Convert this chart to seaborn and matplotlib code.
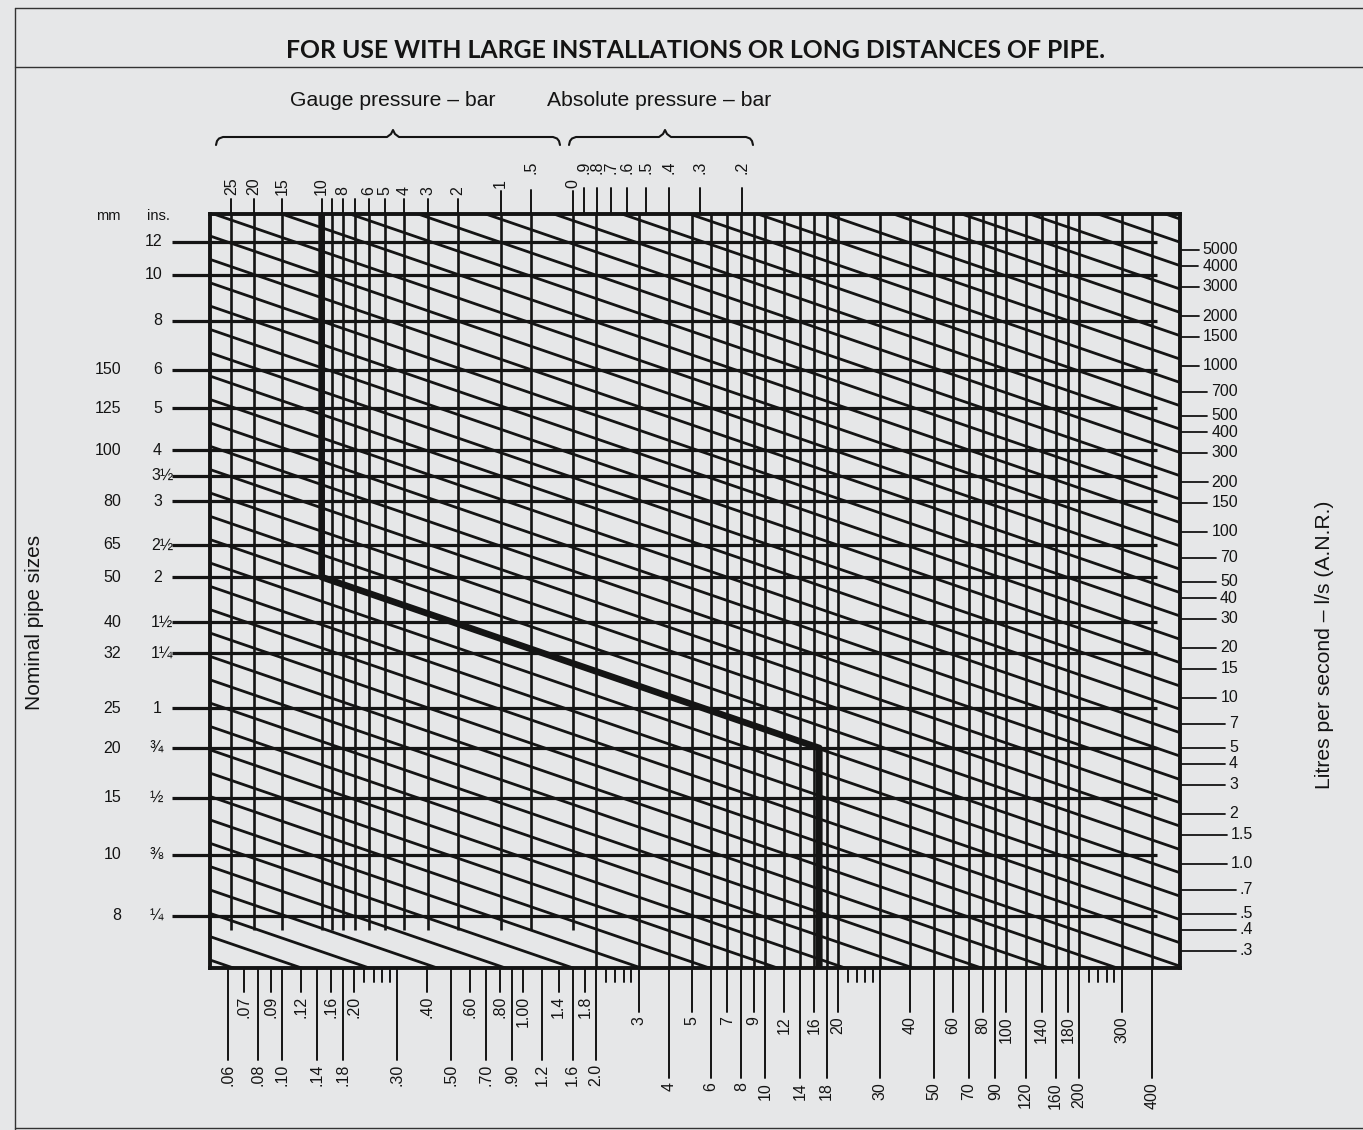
import numpy as np
import pandas as pd
import matplotlib
matplotlib.use("Agg")
import matplotlib.pyplot as plt
from matplotlib.lines import Line2D
from matplotlib.ticker import NullLocator
import seaborn as sns

# ---------------- data ----------------
title = "FOR USE WITH LARGE INSTALLATIONS OR LONG DISTANCES OF PIPE."
gauge_title = "Gauge pressure – bar"
abs_title = "Absolute pressure – bar"
left_title = "Nominal pipe sizes"
right_title = "Litres per second – l/s (A.N.R.)"

# pipe sizes (left scale) and the bore value used to place each line
pipe_inch_labels = ["12", "10", "8", "6", "5", "4", "3½", "3", "2½", "2",
                    "1½", "1¼", "1", "¾", "½", "⅜", "¼"]
pipe_mm_labels = ["", "", "", "150", "125", "100", "", "80", "65", "50",
                  "40", "32", "25", "20", "15", "10", "8"]
pipe_bore = [298, 250, 195, 150, 122, 97.5, 85, 74, 58.6, 49.3,
             38.7, 32.8, 24.4, 19.7, 15.1, 11.1, 8.0]

# litres per second (right scale)
flow_ticks = [5000, 4000, 3000, 2000, 1500, 1000, 700, 500, 400, 300, 200, 150,
              100, 70, 50, 40, 30, 20, 15, 10, 7, 5, 4, 3, 2, 1.5, 1.0, 0.7,
              0.5, 0.4, 0.3]
flow_labels = ["5000", "4000", "3000", "2000", "1500", "1000", "700", "500",
               "400", "300", "200", "150", "100", "70", "50", "40", "30", "20",
               "15", "10", "7", "5", "4", "3", "2", "1.5", "1.0", ".7", ".5",
               ".4", ".3"]

# pressure scales (top)
gauge_ticks = [25, 20, 15, 10, 9, 8, 7, 6, 5, 4, 3, 2, 1, 0.5, 0]
gauge_labels = ["25", "20", "15", "10", "", "8", "", "6", "5", "4", "3", "2",
                "1", ".5", "0"]
abs_ticks = [0.9, 0.8, 0.7, 0.6, 0.5, 0.4, 0.3, 0.2]
abs_labels = [".9", ".8", ".7", ".6", ".5", ".4", ".3", ".2"]
atmosphere = 1.0          # gauge -> absolute
pressure_factor = 1.61    # bottom-scale value x absolute pressure

# bottom scale
bottom_upper_ticks = [0.07, 0.09, 0.12, 0.16, 0.20, 0.40, 0.60, 0.80, 1.00, 1.4,
                      1.8, 3, 5, 7, 9, 12, 16, 20, 40, 60, 80, 100, 140, 180, 300]
bottom_upper_labels = [".07", ".09", ".12", ".16", ".20", ".40", ".60", ".80",
                       "1.00", "1.4", "1.8", "3", "5", "7", "9", "12", "16",
                       "20", "40", "60", "80", "100", "140", "180", "300"]
bottom_lower_ticks = [0.06, 0.08, 0.10, 0.14, 0.18, 0.30, 0.50, 0.70, 0.90, 1.2,
                      1.6, 2.0, 4, 6, 8, 10, 14, 18, 30, 50, 70, 90, 120, 160,
                      200, 400]
bottom_lower_labels = [".06", ".08", ".10", ".14", ".18", ".30", ".50", ".70",
                       ".90", "1.2", "1.6", "2.0", "4", "6", "8", "10", "14",
                       "18", "30", "50", "70", "90", "120", "160", "200", "400"]
bottom_minor_ticks = [0.22, 0.24, 0.26, 0.28, 2.2, 2.4, 2.6, 2.8,
                      22, 24, 26, 28, 220, 240, 260, 280]
through_from = 2.0        # bottom-scale lines that run through the grid

# diagonal family: log10(l/s) at bottom value 1, slope -0.5 in log-log
diag_slope = -0.5
diag_log_q = [-1.227, -1.086, -0.946, -0.805, -0.664, -0.524, -0.383, -0.242,
              -0.101, 0.039, 0.180, 0.321, 0.461, 0.602, 0.743, 0.884, 1.024,
              1.165, 1.306, 1.446, 1.587, 1.728, 1.868, 2.009, 2.150, 2.291,
              2.431, 2.572, 2.713, 2.853, 2.994, 3.135, 3.275, 3.416, 3.557,
              3.698, 3.838, 3.979, 4.120, 4.260, 4.401, 4.542, 4.682, 4.823,
              4.964, 5.105, 5.245]

# worked example path
path_gauge = 10
path_pipe_from = "2"
path_pipe_to = "¾"
path_end_value = 16.8

# scale extents
x_min, x_max = 0.0505, 523
q_min, q_max = 0.236, 8236
bore_min, bore_max = 6.05, 346

# ---------------- layout helpers ----------------
W, H = 1363, 1130
AX_L, AX_R, AX_T, AX_B = 210, 1180, 214, 968


def fx(px):
    return px / W


def fy(py):
    return 1 - py / H


def ax_x(px):
    return (px - AX_L) / (AX_R - AX_L)


def ax_y(py):
    return (AX_B - py) / (AX_B - AX_T)


sns.set_theme(style="white")
plt.rcParams["font.family"] = ["Liberation Sans", "DejaVu Sans"]
BG = "#e6e7e8"
INK = "#141414"

fig = plt.figure(figsize=(W / 100, H / 100), dpi=100, facecolor=BG)
ax = fig.add_axes([fx(AX_L), 1 - AX_B / H, (AX_R - AX_L) / W, (AX_B - AX_T) / H])
ax.set_facecolor(BG)
ax.set_xscale("log")
ax.set_yscale("log")
ax2 = ax.twinx()
ax2.set_yscale("log")
ax2.patch.set_visible(False)

xt = ax.get_xaxis_transform()
yt = ax.get_yaxis_transform()
yt2 = ax2.get_yaxis_transform()

# diagonals
xs = np.array([x_min, x_max])
for c in diag_log_q:
    ax.plot(xs, 10 ** (c + diag_slope * np.log10(xs)), color=INK, lw=2.0,
            solid_capstyle="butt", zorder=2)

# bottom-scale lines through the grid
through = sorted(v for v in bottom_upper_ticks + bottom_lower_ticks if v >= through_from)
ax.vlines(through, 0, 1, transform=xt, color=INK, lw=1.9, zorder=2)

# pressure lines
gauge_x = [pressure_factor / (g + atmosphere) for g in gauge_ticks]
abs_x = [pressure_factor / a for a in abs_ticks]
ax.vlines(gauge_x, ax_y(930), 1, transform=xt, color=INK, lw=1.9, zorder=2)

# pipe-size lines
ax2.hlines(pipe_bore, ax_x(172), ax_x(1157), transform=yt2, color=INK, lw=2.3,
           clip_on=False, zorder=3)

# worked example
i_from = pipe_inch_labels.index(path_pipe_from)
i_to = pipe_inch_labels.index(path_pipe_to)
x_start = pressure_factor / (path_gauge + atmosphere)
path = pd.DataFrame({"x": [x_start, x_start, path_end_value, path_end_value],
                     "y": [bore_max, pipe_bore[i_from], pipe_bore[i_to], bore_min]})
sns.lineplot(data=path, x="x", y="y", sort=False, estimator=None, ax=ax2,
             color=INK, lw=4.8, zorder=5)

ax.set_xlim(x_min, x_max)
ax.set_ylim(q_min, q_max)
ax2.set_ylim(bore_min, bore_max)
for a in (ax, ax2):
    a.set_xlabel("")
    a.set_ylabel("")
    for axis in (a.xaxis, a.yaxis):
        axis.set_major_locator(NullLocator())
        axis.set_minor_locator(NullLocator())
for s in ax.spines.values():
    s.set_linewidth(2.8)
    s.set_color(INK)
for s in ax2.spines.values():
    s.set_visible(False)

TF = 11.5
# ---- top ticks ----
for g, x, lab in zip(gauge_ticks, gauge_x, gauge_labels):
    if g >= 2 or lab == "":
        top, lab_y = 199, 195
    elif g == 0.5:
        top, lab_y = 190, 174
    else:
        top, lab_y = 191, 188
    ax.plot([x, x], [1, ax_y(top)], transform=xt, color=INK, lw=1.4, clip_on=False)
    if lab:
        ax.text(x, ax_y(lab_y), lab, transform=xt, rotation=90, ha="center",
                va="bottom", fontsize=TF, color=INK)
for x, lab in zip(abs_x, abs_labels):
    ax.plot([x, x], [1, ax_y(188)], transform=xt, color=INK, lw=1.4, clip_on=False)
    ax.text(x, ax_y(174), lab, transform=xt, rotation=90, ha="center",
            va="bottom", fontsize=TF, color=INK)


# ---- bottom ticks ----
def bottom_row(vals, labels, end_left, end_right):
    for v, lab in zip(vals, labels):
        end = end_left if v < 2.5 else end_right
        ax.plot([v, v], [0, ax_y(end)], transform=xt, color=INK, lw=1.4,
                clip_on=False)
        if lab:
            ax.text(v, ax_y(end + 4), lab, transform=xt, rotation=90,
                    ha="center", va="top", fontsize=TF, color=INK)


bottom_row(bottom_upper_ticks, bottom_upper_labels, 992, 1012)
bottom_row(bottom_lower_ticks, bottom_lower_labels, 1060, 1078)
bottom_row(bottom_minor_ticks, [""] * len(bottom_minor_ticks), 982, 982)

# ---- right ticks ----
renderer = fig.canvas.get_renderer()
for v, lab in zip(flow_ticks, flow_labels):
    xr = 1253 if "." in lab else 1238
    t = ax.text(ax_x(xr), v, lab, transform=yt, ha="right", va="center",
                fontsize=TF, color=INK)
    bb = t.get_window_extent(renderer=renderer)
    ax.plot([1, ax_x(bb.x0 - 4)], [v, v], transform=yt, color=INK, lw=1.3,
            clip_on=False)

# ---- left labels ----
for b, ilab, mlab in zip(pipe_bore, pipe_inch_labels, pipe_mm_labels):
    if ilab[0].isdigit() and not ilab.isdigit():
        ax2.text(ax_x(151), b, ilab, transform=yt2, ha="left", va="center",
                 fontsize=TF, color=INK)
    elif ilab.isdigit():
        ax2.text(ax_x(162), b, ilab, transform=yt2, ha="right", va="center",
                 fontsize=TF, color=INK)
    else:
        ax2.text(ax_x(156), b, ilab, transform=yt2, ha="center", va="center",
                 fontsize=TF, color=INK)
    if mlab:
        ax2.text(ax_x(121), b, mlab, transform=yt2, ha="right", va="center",
                 fontsize=TF, color=INK)

fig.text(fx(108), fy(216), "mm", ha="center", va="center", fontsize=10.5, color=INK)
fig.text(fx(158), fy(216), "ins.", ha="center", va="center", fontsize=10.5, color=INK)

# ---- titles ----
fig.text(fx(696), fy(50), title, ha="center", va="center", fontsize=17.8,
         fontweight="bold", family=["Lato", "DejaVu Sans"], color=INK)
fig.text(fx(393), fy(100), gauge_title, ha="center", va="center", fontsize=15.2, color=INK)
fig.text(fx(659), fy(100), abs_title, ha="center", va="center", fontsize=15.2, color=INK)
fig.text(fx(35), fy(622), left_title, rotation=90, ha="center", va="center",
         fontsize=15, color=INK)
fig.text(fx(1325), fy(645), right_title, rotation=90, ha="center", va="center",
         fontsize=15.2, color=INK)


# ---- braces ----
def brace(x0, x1, xm, y):
    pts = [(x0, y + 8), (x0 + 1, y + 4), (x0 + 3, y + 1.5), (x0 + 7, y),
           (xm - 6, y), (xm - 2, y - 3), (xm, y - 7), (xm + 2, y - 3),
           (xm + 6, y), (x1 - 7, y), (x1 - 3, y + 1.5), (x1 - 1, y + 4),
           (x1, y + 8)]
    fig.add_artist(Line2D([fx(p[0]) for p in pts], [fy(p[1]) for p in pts],
                          transform=fig.transFigure, color=INK, lw=1.5))


brace(216, 560, 393, 137)
brace(569, 753, 665, 137)

# ---- frame ----
for (x0, y0, x1, y1) in [(15, 8, W, 8), (15, 8, 15, H), (15, 67, W, 67),
                         (15, 1128, W, 1128)]:
    fig.add_artist(Line2D([fx(x0), fx(x1)], [fy(y0), fy(y1)],
                          transform=fig.transFigure, color="#333333", lw=1.0))

fig.savefig("out.png", dpi=100, facecolor=BG)
